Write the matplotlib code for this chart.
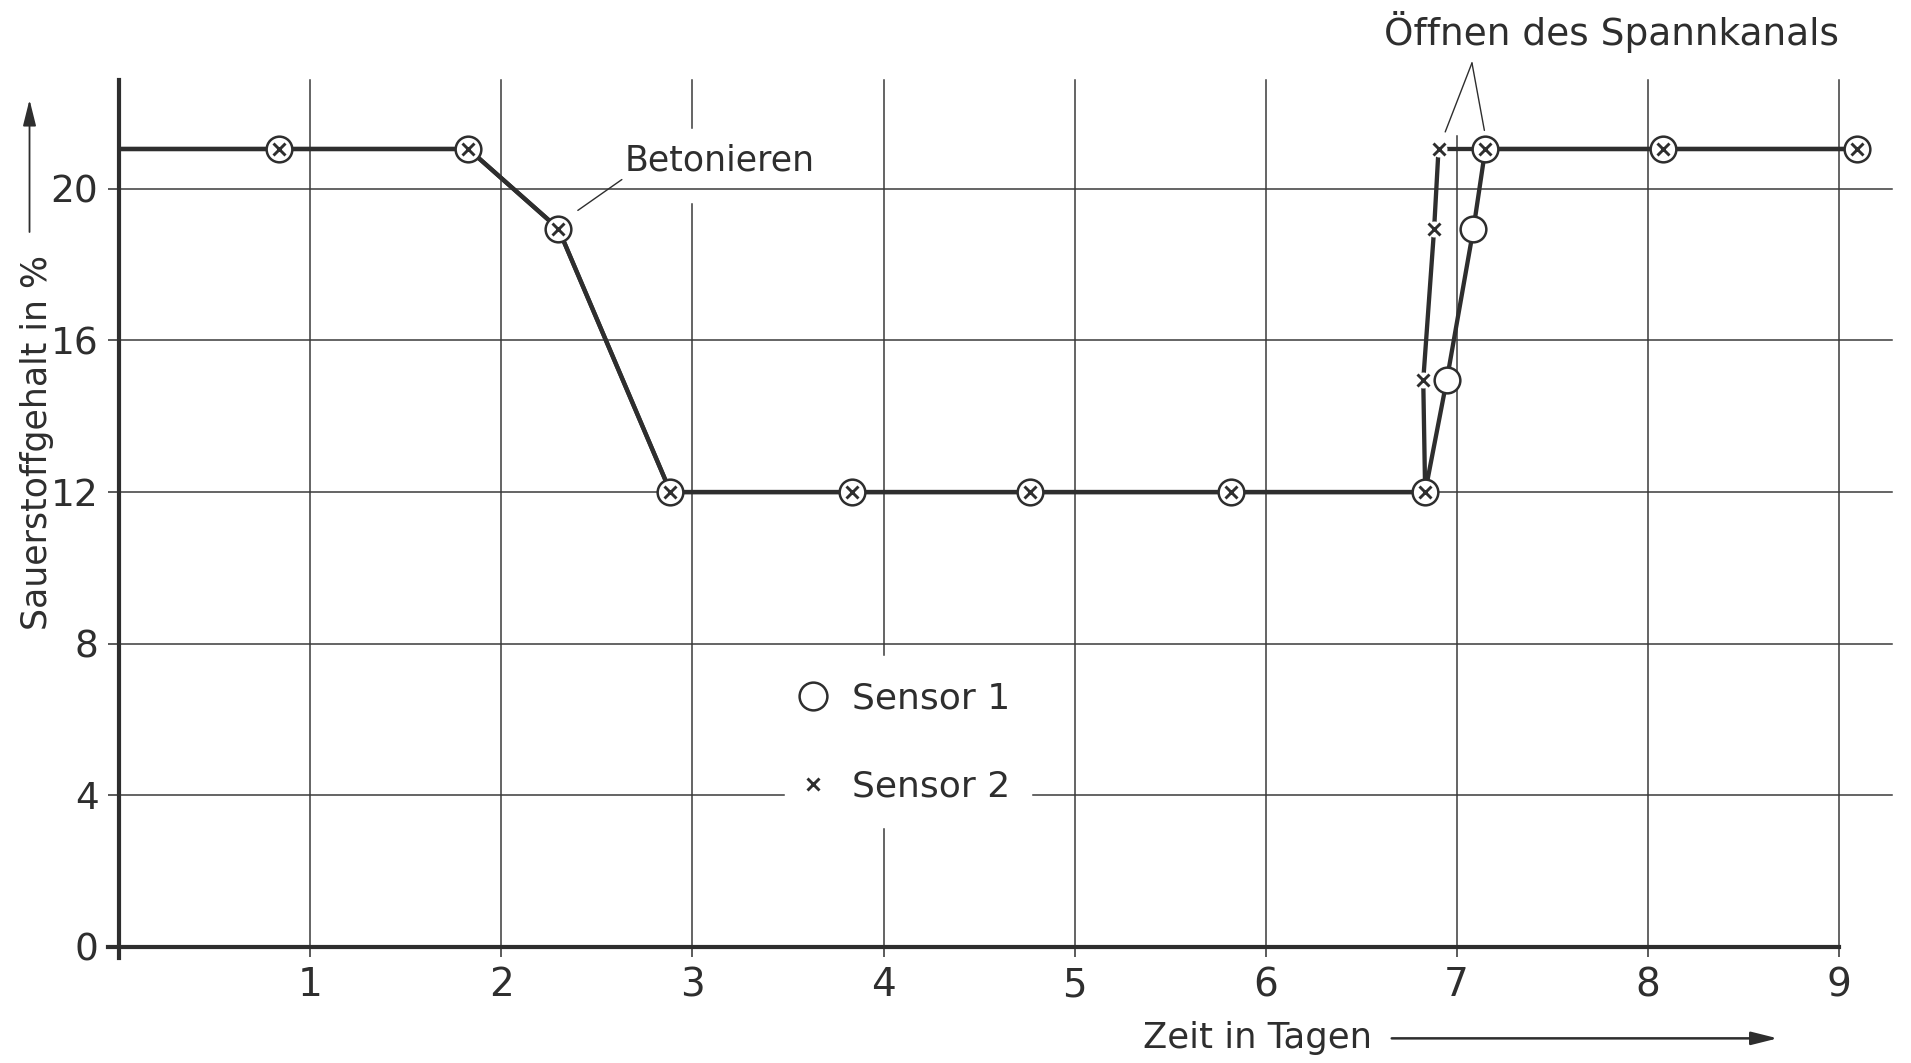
import matplotlib
matplotlib.use("Agg")
import matplotlib.pyplot as plt
from matplotlib.lines import Line2D

# ---------------- data ----------------
days_s1 = [0.0, 0.835, 1.827, 2.298, 2.885, 3.835, 4.765, 5.82, 6.835, 6.948, 7.088, 7.15, 8.078, 9.095]
o2_s1   = [21.05, 21.05, 21.05, 18.95, 12.0, 12.0, 12.0, 12.0, 12.0, 14.95, 18.95, 21.05, 21.05, 21.05]

days_s2 = [0.0, 0.835, 1.827, 2.298, 2.885, 3.835, 4.765, 5.82, 6.835, 6.825, 6.882, 6.905, 7.15, 8.078, 9.095]
o2_s2   = [21.05, 21.05, 21.05, 18.95, 12.0, 12.0, 12.0, 12.0, 12.0, 14.95, 18.95, 21.05, 21.05, 21.05, 21.05]

x_ticks = [1, 2, 3, 4, 5, 6, 7, 8, 9]
y_ticks = [0, 4, 8, 12, 16, 20]
series_labels = ["Sensor 1", "Sensor 2"]

ink = "#2e2e2e"
plt.rcParams["font.family"] = ["DejaVu Sans"]

fig = plt.figure(figsize=(19.11, 10.63), dpi=100)
ax = fig.add_axes([0, 0, 1, 1])
ax.set_xlim(-0.6245, 9.378)
ax.set_ylim(-3.06, 24.98)
ax.set_facecolor("white")

# axes / spines
for s in ("top", "right"):
    ax.spines[s].set_visible(False)
ax.spines["left"].set_position(("data", 0))
ax.spines["bottom"].set_position(("data", 0))
ax.spines["left"].set_bounds(-0.3, 22.86)
ax.spines["bottom"].set_bounds(-0.06, 9.0)
for s in ("left", "bottom"):
    ax.spines[s].set_linewidth(3.0)
    ax.spines[s].set_color(ink)
    ax.spines[s].set_zorder(2.5)

ax.set_xticks(x_ticks)
ax.set_yticks(y_ticks)
ax.set_xticklabels([str(v) for v in x_ticks])
ax.set_yticklabels([str(v) for v in y_ticks])
ax.tick_params(axis="x", direction="out", length=7, width=1.1, color=ink,
               labelsize=28, labelcolor=ink, pad=7)
ax.tick_params(axis="y", direction="out", length=8, width=1.1, color=ink,
               labelsize=27, labelcolor=ink, pad=7)

# grid lines (drawn with the gaps of the original drawing)
glw = 1.1
gcol = "#3a3a3a"
for yv in y_ticks[1:]:
    if yv == 4:
        ax.plot([0, 3.48], [yv, yv], color=gcol, lw=glw, zorder=1)
        ax.plot([4.78, 9.28], [yv, yv], color=gcol, lw=glw, zorder=1)
    else:
        ax.plot([0, 9.28], [yv, yv], color=gcol, lw=glw, zorder=1)
for xv in x_ticks:
    if xv == 3:
        segs = [(0, 19.6), (21.6, 22.86)]
    elif xv == 4:
        segs = [(0, 3.12), (7.7, 22.86)]
    elif xv == 7:
        segs = [(0, 21.4)]
    else:
        segs = [(0, 22.86)]
    for a, b in segs:
        ax.plot([xv, xv], [a, b], color=gcol, lw=glw, zorder=1)

# data lines
ax.plot(days_s2, o2_s2, color=ink, lw=3.1, solid_capstyle="round", zorder=3)
ax.plot(days_s1, o2_s1, color=ink, lw=3.1, solid_capstyle="round", zorder=3)

# markers
ax.plot(days_s1, o2_s1, ls="none", marker="o", ms=18.5, mfc="white", mec=ink,
        mew=1.8, markevery=slice(1, None), zorder=4)
ax.plot(days_s2, o2_s2, ls="none", marker="o", ms=11.5, mfc="white", mec="none",
        markevery=slice(1, None), zorder=4.5)
ax.plot(days_s2, o2_s2, ls="none", marker="x", ms=9, mec=ink, mew=2.1,
        markevery=slice(1, None), zorder=5)

# legend
handles = [
    Line2D([], [], ls="none", marker="o", ms=20, mfc="white", mec=ink, mew=1.8),
    Line2D([], [], ls="none", marker="x", ms=9, mec=ink, mew=2.1),
]
leg = ax.legend(handles, series_labels, loc="center", bbox_to_anchor=(4.10, 5.40),
                bbox_transform=ax.transData, frameon=False, fontsize=26,
                handlelength=1.0, handletextpad=0.6, labelspacing=1.5,
                borderpad=0, borderaxespad=0)
for t in leg.get_texts():
    t.set_color(ink)

# annotations
ax.annotate("Betonieren", xy=(2.40, 19.43), xytext=(2.645, 20.48),
            textcoords="data", fontsize=25, color=ink, va="baseline", ha="left",
            arrowprops=dict(arrowstyle="-", lw=1.0, color=ink, shrinkA=0,
                            shrinkB=0, relpos=(0, 0)), zorder=6)

ax.text(7.81, 23.78, "Öffnen des Spannkanals", fontsize=27, color=ink,
        ha="center", va="baseline")
for end in [(6.94, 21.5), (7.145, 21.54)]:
    ax.annotate("", xy=end, xytext=(7.08, 23.32),
                arrowprops=dict(arrowstyle="-", lw=1.0, color=ink,
                                shrinkA=0, shrinkB=0))

# axis titles with arrows
ax.text(-0.43, 13.3, "Sauerstoffgehalt in %", rotation=90, fontsize=25,
        color=ink, ha="center", va="center")
ax.annotate("", xy=(-0.47, 22.35), xytext=(-0.47, 18.86),
            arrowprops=dict(arrowstyle="-|>,head_length=0.8,head_width=0.2",
                            lw=1.3, color=ink, mutation_scale=20,
                            shrinkA=0, shrinkB=0), annotation_clip=False)

ax.text(5.36, -2.41, "Zeit in Tagen", fontsize=25.5, color=ink,
        ha="left", va="center")
ax.annotate("", xy=(8.68, -2.41), xytext=(6.66, -2.41),
            arrowprops=dict(arrowstyle="-|>,head_length=0.8,head_width=0.2",
                            lw=1.8, color=ink, mutation_scale=20,
                            shrinkA=0, shrinkB=0), annotation_clip=False)

fig.savefig("out.png", dpi=100, facecolor="white")
